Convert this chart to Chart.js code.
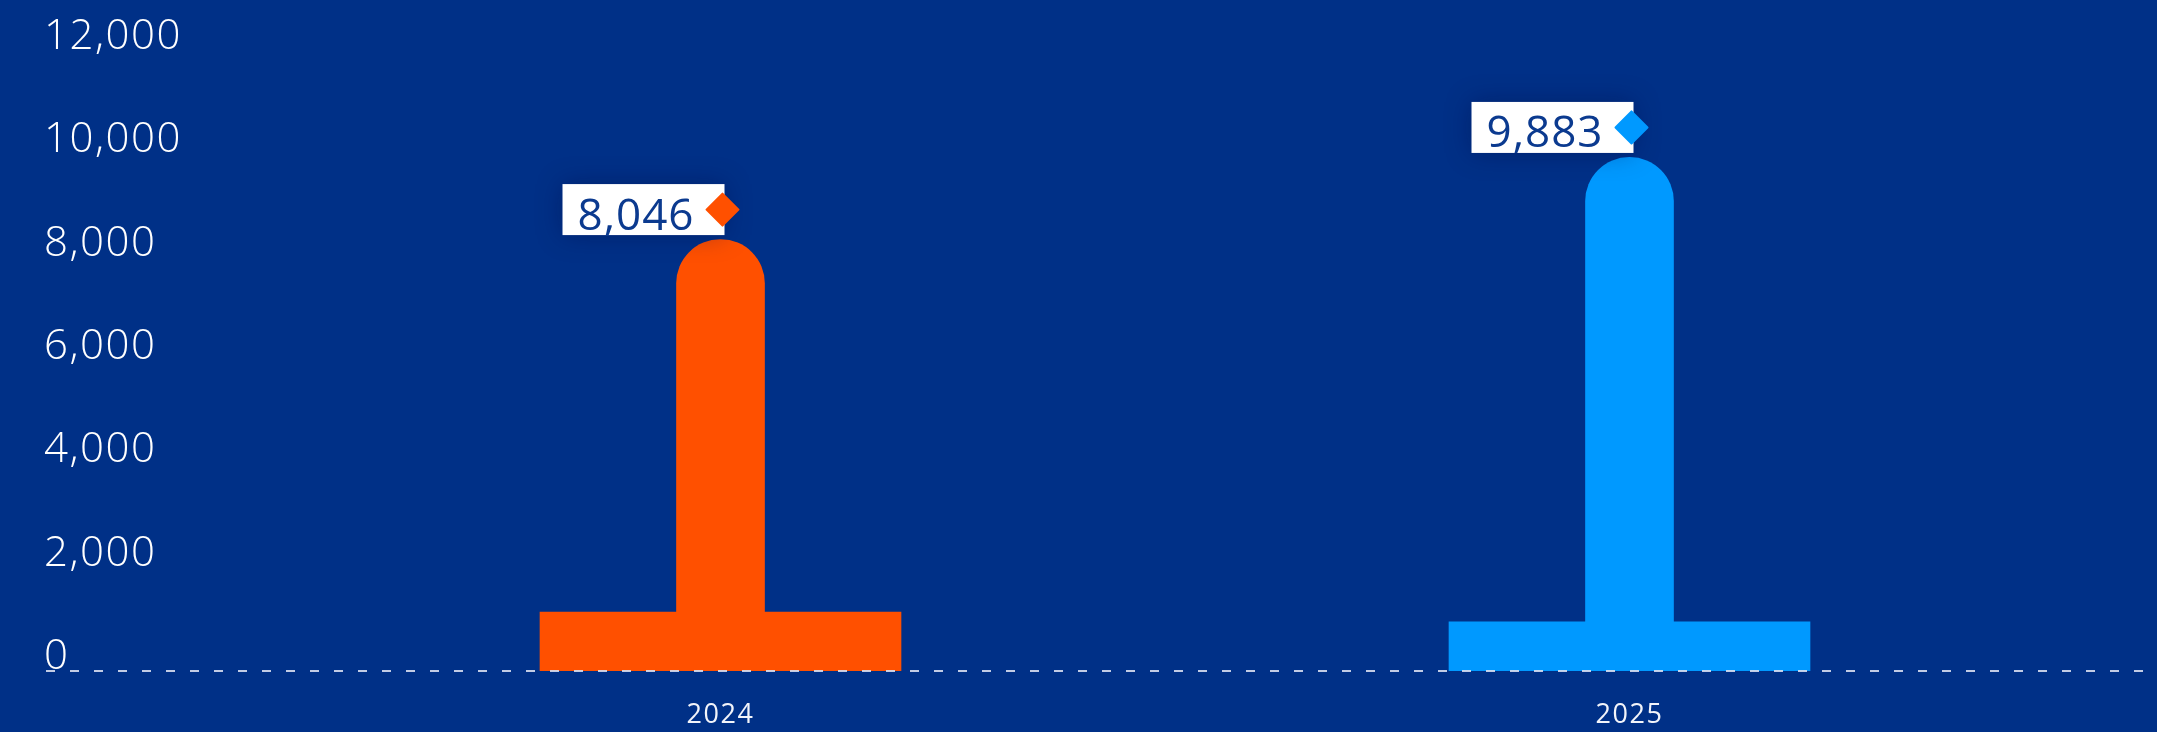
<!DOCTYPE html>
<html><head><meta charset="utf-8">
<script src="https://cdn.jsdelivr.net/npm/chart.js@4/dist/chart.umd.min.js"></script>
<style>html,body{margin:0;padding:0;background:#003087;overflow:hidden}canvas{display:block}</style>
</head><body>
<canvas id="c" width="2157" height="732"></canvas>
<script>
// ---- data ----
const categories = ['2024', '2025'];
const shaftValues = [8350, 9940];     // height of the rounded (capsule) bars on the axis
const baseValues = [1140, 950];       // height of the wide foot bars
const labelValues = [8046, 9883];     // printed value labels
const barColors = ['#FF5000', '#0099FF'];
const yTickValues = [0, 2000, 4000, 6000, 8000, 10000, 12000];

const fmt = v => v.toLocaleString('en-US');

const spacingPlugin = {
  id: 'spacing',
  beforeDraw(chart) { chart.ctx.letterSpacing = '1.5px'; }
};

const baselinePlugin = {
  id: 'baseline',
  afterDatasetsDraw(chart) {
    const ctx = chart.ctx;
    const y = chart.scales.y.getPixelForValue(0);
    ctx.save();
    ctx.strokeStyle = 'rgba(215,222,240,0.9)';
    ctx.lineWidth = 2;
    ctx.setLineDash([9, 15]);
    ctx.beginPath();
    ctx.moveTo(46, y);
    ctx.lineTo(chart.width, y);
    ctx.stroke();
    ctx.restore();
  }
};

const labelPlugin = {
  id: 'valueLabels',
  afterDraw(chart) {
    const ctx = chart.ctx;
    const meta = chart.getDatasetMeta(1);
    meta.data.forEach((bar, i) => {
      const boxW = 162, boxH = 51;
      const right = bar.x + 4;
      const cy = bar.y - 30;
      const left = right - boxW;
      ctx.save();
      ctx.shadowColor = 'rgba(0,10,60,0.35)';
      ctx.shadowBlur = 26;
      ctx.fillStyle = '#ffffff';
      ctx.fillRect(left, cy - boxH / 2, boxW, boxH);
      ctx.restore();
      ctx.save();
      ctx.letterSpacing = '1px';
      ctx.font = '400 44px "Open Sans"';
      ctx.fillStyle = '#0b3a8f';
      ctx.textBaseline = 'alphabetic';
      ctx.textAlign = 'left';
      ctx.fillText(fmt(labelValues[i]), left + 15, cy + 20);
      const dx = right - 2, d = 16;
      ctx.fillStyle = barColors[i];
      ctx.strokeStyle = barColors[i];
      ctx.lineWidth = 2;
      ctx.lineJoin = 'round';
      ctx.beginPath();
      ctx.moveTo(dx, cy - d); ctx.lineTo(dx + d, cy); ctx.lineTo(dx, cy + d); ctx.lineTo(dx - d, cy);
      ctx.closePath(); ctx.fill(); ctx.stroke();
      ctx.restore();
    });
  }
};

new Chart(document.getElementById('c'), {
  type: 'bar',
  data: {
    labels: categories,
    datasets: [
      { label: 'base', data: baseValues, backgroundColor: barColors, barThickness: 361, grouped: false, borderWidth: 0 },
      { label: 'value', data: shaftValues, backgroundColor: barColors, barThickness: 88, grouped: false, borderWidth: 0,
        borderRadius: { topLeft: 44, topRight: 44, bottomLeft: 0, bottomRight: 0 }, borderSkipped: 'bottom' }
    ]
  },
  options: {
    responsive: false,
    animation: false,
    events: [],
    layout: { padding: { left: 44, right: 73, top: 51, bottom: 0 } },
    plugins: { legend: { display: false }, tooltip: { enabled: false } },
    scales: {
      x: {
        grid: { display: false, drawTicks: false },
        border: { display: false },
        ticks: { color: '#f2f4fa', font: { family: '"Open Sans"', size: 27, weight: 400 }, padding: 28 },
        afterFit(s) { s.height = 61; }
      },
      y: {
        min: 0, max: 12000,
        grid: { display: false, drawTicks: false },
        border: { display: false },
        afterBuildTicks(s) { s.ticks = yTickValues.map(v => ({ value: v })); },
        afterFit(s) { s.width = 222; },
        ticks: {
          color: '#ffffff', crossAlign: 'far', labelOffset: -14, padding: 0,
          font: { family: '"Open Sans"', size: 42, weight: 300 },
          callback: v => fmt(v)
        }
      }
    }
  },
  plugins: [spacingPlugin, baselinePlugin, labelPlugin]
});
</script>
</body></html>
